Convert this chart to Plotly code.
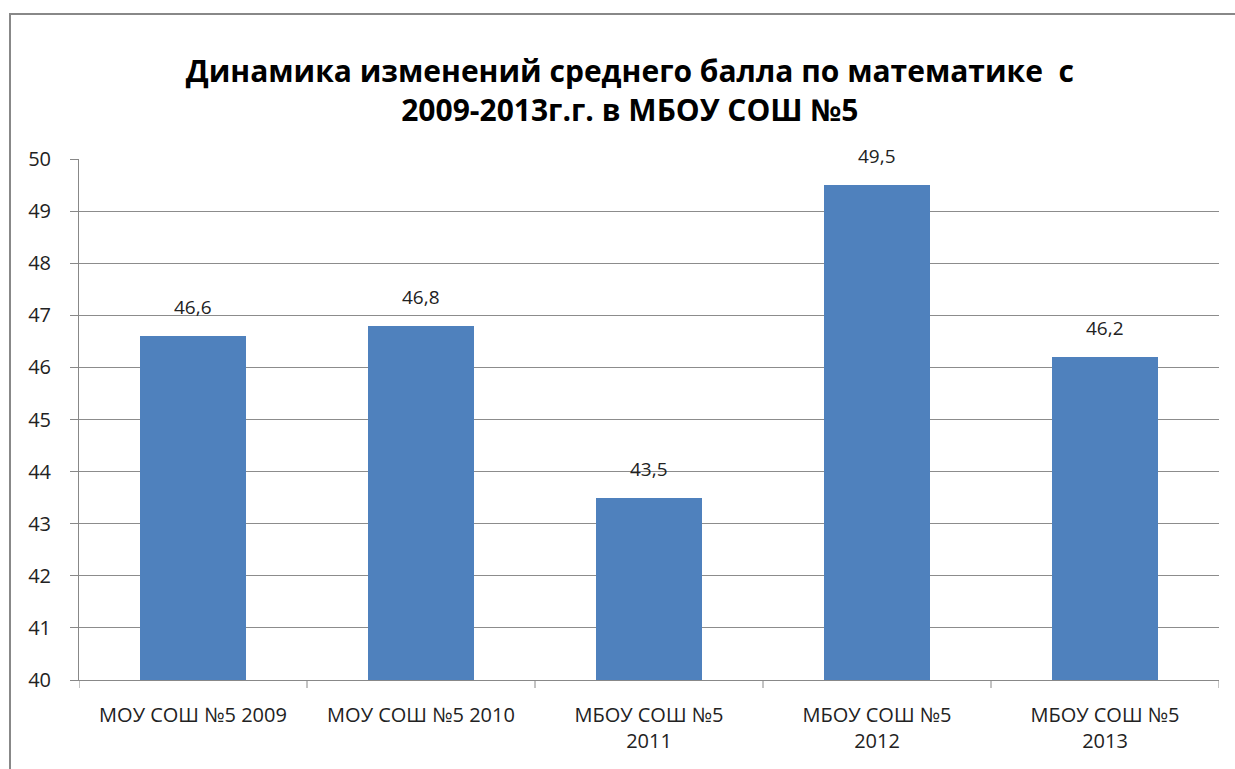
import plotly.graph_objects as go

categories = ["МОУ СОШ №5 2009", "МОУ СОШ №5 2010", "МБОУ СОШ №5<br>2011",
              "МБОУ СОШ №5<br>2012", "МБОУ СОШ №5<br>2013"]
values = [46.6, 46.8, 43.5, 49.5, 46.2]
y_ticks = [40, 41, 42, 43, 44, 45, 46, 47, 48, 49, 50]
title_text = "Динамика изменений среднего балла по математике  с<br>2009-2013г.г. в МБОУ СОШ №5"

FONT = "Open Sans"
W, H = 1235, 769
L, R, T, B = 79, 16, 159, 89

xs = list(range(len(categories)))
labels = [f"{v:.1f}".replace(".", ",") for v in values]

fig = go.Figure()
fig.add_trace(go.Bar(
    x=xs, y=values,
    width=0.465,
    marker=dict(color="#4F81BD", line=dict(width=0)),
    cliponaxis=False,
))

def px(X):
    return (X - L) / (W - L - R)

def py(Y):
    return (H - B - Y) / (H - T - B)

annotations = [
    dict(x=x, y=v, xref="x", yref="y", text=t, showarrow=False,
         yanchor="bottom", yshift=14,
         font=dict(family=FONT, size=19, color="#222"))
    for x, v, t in zip(xs, values, labels)
]

fig.update_layout(
    width=W, height=H,
    margin=dict(l=L, r=R, t=T, b=B),
    paper_bgcolor="white", plot_bgcolor="white",
    showlegend=False,
    bargap=0,
    title=dict(text=title_text, x=0.510, xanchor="center", y=1 - 82 / H, yanchor="middle",
               font=dict(family=FONT, size=30, color="black", weight="bold")),
    xaxis=dict(
        tickmode="array", tickvals=xs, ticktext=categories,
        range=[-0.5, len(categories) - 0.5],
        showgrid=False, showline=True, linecolor="#888", linewidth=1,
        ticks="", ticklabelstandoff=17,
        tickfont=dict(family=FONT, size=20, color="#222"),
        zeroline=False,
    ),
    yaxis=dict(
        range=[40, 50], tickvals=y_ticks,
        showgrid=True, gridcolor="#8c8c8c", gridwidth=1,
        showline=True, linecolor="#888", linewidth=1,
        ticks="outside", ticklen=8, tickcolor="#888", ticklabelstandoff=15,
        tickfont=dict(family=FONT, size=20, color="#222"),
        zeroline=False,
    ),
    annotations=annotations,
    shapes=[
        dict(type="rect", xref="paper", yref="paper",
             x0=px(10), x1=px(1245), y0=py(780), y1=py(14),
             line=dict(color="#888", width=2), layer="below"),
    ] + [
        dict(type="line", xref="x", yref="paper",
             x0=i - 0.5, x1=i - 0.5, y0=0, y1=-8 / (H - T - B),
             line=dict(color="#888", width=1))
        for i in range(len(categories) + 1)
    ],
)

fig.write_html("out.html", config={"displayModeBar": False},
               post_script="document.body.style.margin='0';")
